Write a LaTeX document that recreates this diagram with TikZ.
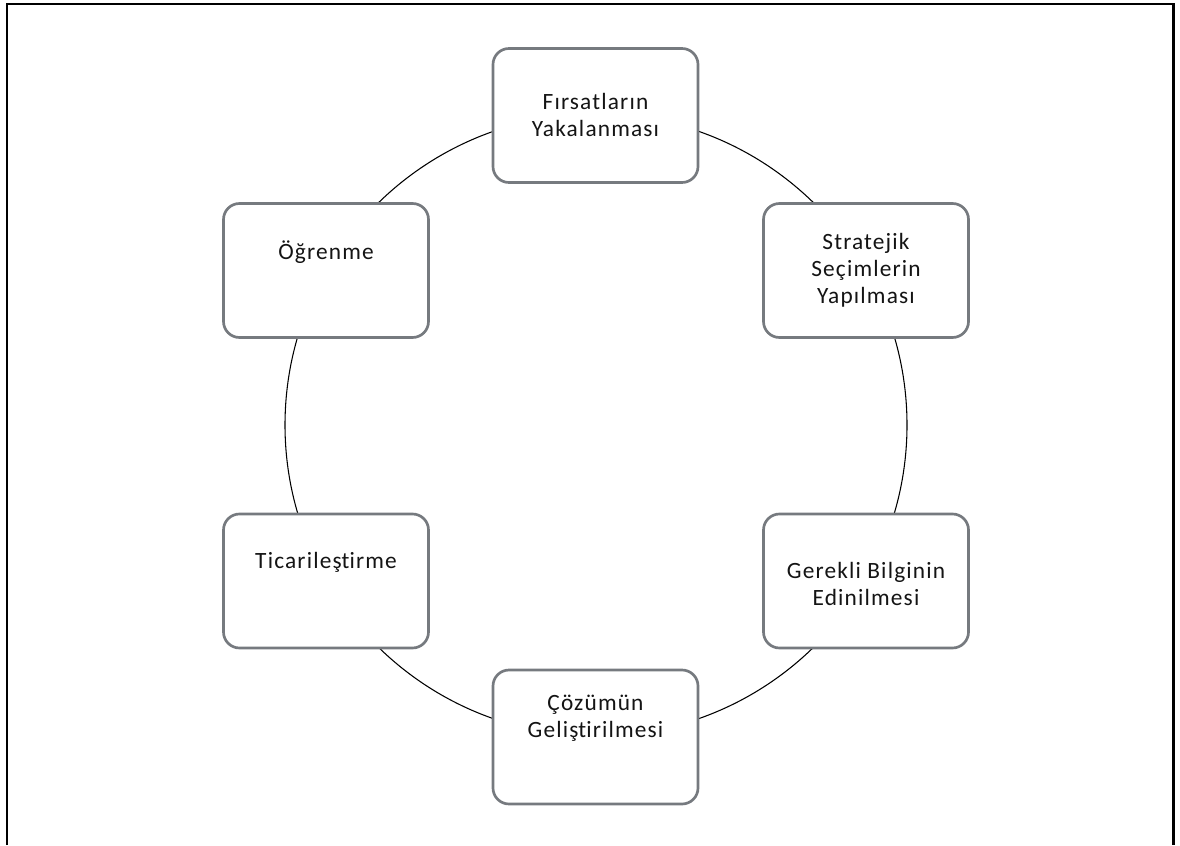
\documentclass[tikz,border=0pt]{standalone}
\usepackage{fontspec}
\setmainfont{Carlito}[LetterSpace=5.0,Ligatures=NoCommon]
\definecolor{boxgray}{RGB}{118,122,127}
\definecolor{txt}{RGB}{20,20,20}
\newcommand{\nolig}{\kern0pt{}}
\begin{document}
\begin{tikzpicture}[x=0.75pt,y=-0.75pt,
  stagebox/.style={draw=boxgray, line width=2pt, fill=white, rounded corners=12pt,
    minimum width=153.75pt, minimum height=100.5pt, inner sep=0pt},
  stagetext/.style={align=center, text=txt, inner sep=0pt,
    font=\fontsize{17.5}{20.25}\selectfont}]
\useasboundingbox (0,0) rectangle (1180,845);
\draw[line width=1.6pt] (7,845) -- (7,4) -- (1173.5,4) -- (1173.5,845);
\coordinate (c) at (596,425);
\draw[line width=0.8pt] (c) circle[radius=233.25pt];
\node[stagebox] (b1) at (595.5,115.5) {};
\node[stagebox] (b2) at (866,270.5) {};
\node[stagebox] (b3) at (866,581) {};
\node[stagebox] (b4) at (595.5,737) {};
\node[stagebox] (b5) at (326,581) {};
\node[stagebox] (b6) at (326,270.5) {};
\node[stagetext] (t1) at (595.5,115) {Fırsatların\\Yakalanması};
\node[stagetext] (t2) at (866,270.5) {Stratejik\\Seçimlerin\\Yapılması};
\node[stagetext] (t3) at (866,584) {Gerekli Bilginin\\Edinilmesi};
\node[stagetext] (t4) at (595.5,718.5) {Çözümün\\Geliş\nolig t\nolig irilmesi};
\node[stagetext] (t5) at (326,562) {Ticarileş\nolig t\nolig irme};
\node[stagetext] (t6) at (326,252) {Öğrenme};
\end{tikzpicture}
\end{document}
